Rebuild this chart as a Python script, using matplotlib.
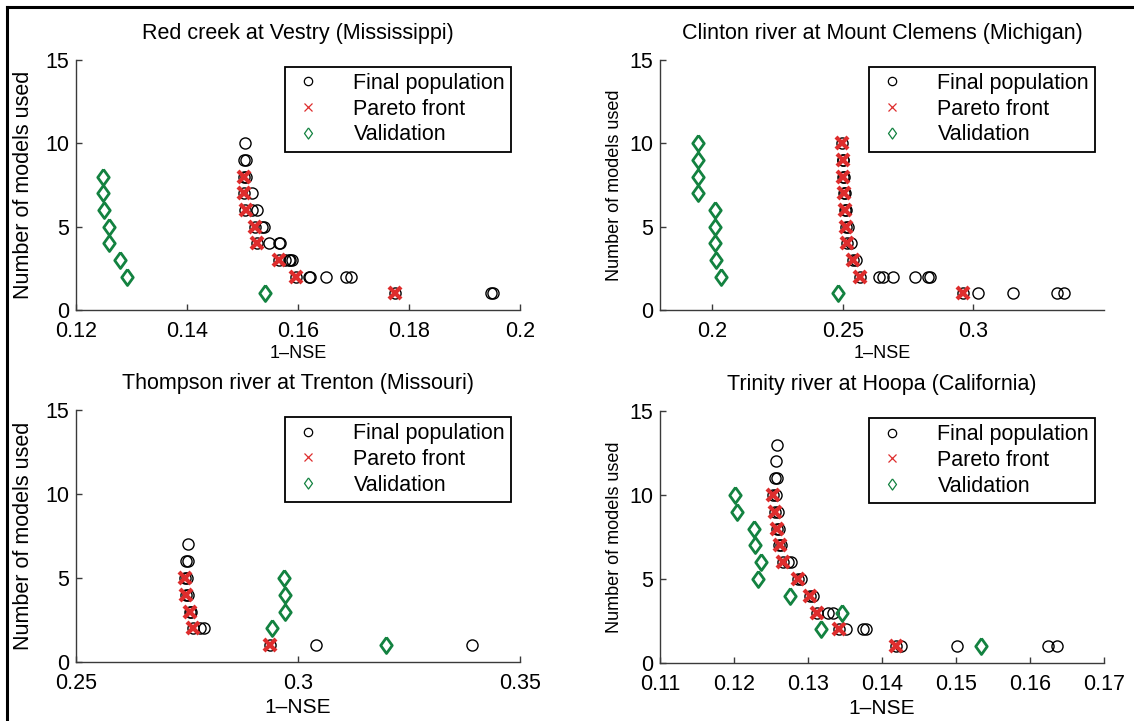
import matplotlib
matplotlib.use("Agg")
import matplotlib.pyplot as plt
from matplotlib.lines import Line2D

plt.rcParams['font.family'] = ['Liberation Sans', 'DejaVu Sans']

titles = ["Red creek at Vestry (Mississippi)",
          "Clinton river at Mount Clemens (Michigan)",
          "Thompson river at Trenton (Missouri)",
          "Trinity river at Hoopa (California)"]

# Panel 1: Red creek
pop1_x = [0.1505, 0.1503, 0.1507, 0.1503, 0.1506, 0.1503, 0.1517, 0.1505, 0.1517, 0.1526,
          0.1523, 0.1535, 0.1539, 0.1526, 0.1547, 0.1565, 0.1567, 0.1565, 0.1577, 0.1583,
          0.1586, 0.1589, 0.1597, 0.1619, 0.1622, 0.1651, 0.1687, 0.1696, 0.1775, 0.1948, 0.1951]
pop1_y = [10, 9, 9, 8, 8, 7, 7, 6, 6, 6, 5, 5, 5, 4, 4, 4, 4, 3, 3, 3, 3, 3,
          2, 2, 2, 2, 2, 2, 1, 1, 1]
par1_x = [0.1503, 0.1503, 0.1506, 0.1523, 0.1526, 0.1565, 0.1597, 0.1775]
par1_y = [8, 7, 6, 5, 4, 3, 2, 1]
val1_x = [0.1249, 0.1249, 0.1250, 0.1259, 0.1259, 0.1279, 0.1291, 0.1540]
val1_y = [8, 7, 6, 5, 4, 3, 2, 1]

# Panel 2: Clinton river
pop2_x = [0.2497, 0.2500, 0.2502, 0.2500, 0.2503, 0.2504, 0.2507, 0.2509, 0.2513,
          0.2513, 0.2519, 0.2517, 0.2532, 0.2538, 0.2551,
          0.2566, 0.2640, 0.2653, 0.2694, 0.2778, 0.2825, 0.2832,
          0.2959, 0.3019, 0.3153, 0.3319, 0.3348]
pop2_y = [10, 9, 9, 8, 8, 7, 7, 6, 6, 5, 5, 4, 4, 3, 3,
          2, 2, 2, 2, 2, 2, 2, 1, 1, 1, 1, 1]
par2_x = [0.2497, 0.2500, 0.2500, 0.2504, 0.2509, 0.2513, 0.2517, 0.2538, 0.2566, 0.2959]
par2_y = [10, 9, 8, 7, 6, 5, 4, 3, 2, 1]
val2_x = [0.1945, 0.1945, 0.1945, 0.1945, 0.2009, 0.2009, 0.2011, 0.2015, 0.2034, 0.2483]
val2_y = [10, 9, 8, 7, 6, 5, 4, 3, 2, 1]

# Panel 3: Thompson river
pop3_x = [0.2752, 0.2748, 0.2753, 0.2746, 0.2751, 0.2748, 0.2753, 0.2756, 0.2759,
          0.2763, 0.2780, 0.2789, 0.2936, 0.3040, 0.3391]
pop3_y = [7, 6, 6, 5, 5, 4, 4, 3, 3, 2, 2, 2, 1, 1, 1]
par3_x = [0.2746, 0.2748, 0.2756, 0.2763, 0.2936]
par3_y = [5, 4, 3, 2, 1]
val3_x = [0.2969, 0.2971, 0.2971, 0.2941, 0.3199]
val3_y = [5, 4, 3, 2, 1]

# Panel 4: Trinity river
pop4_x = [0.1258, 0.1257, 0.1256, 0.1258, 0.1253, 0.1257, 0.1255, 0.1259, 0.1258, 0.1261,
          0.1261, 0.1264, 0.1266, 0.1273, 0.1277, 0.1286, 0.1291, 0.1303, 0.1307,
          0.1312, 0.1327, 0.1334, 0.1342, 0.1352, 0.1374, 0.1378,
          0.1419, 0.1426, 0.1502, 0.1624, 0.1637]
pop4_y = [13, 12, 11, 11, 10, 10, 9, 9, 8, 8, 7, 7, 6, 6, 6, 5, 5, 4, 4,
          3, 3, 3, 2, 2, 2, 2, 1, 1, 1, 1, 1]
par4_x = [0.1253, 0.1255, 0.1258, 0.1262, 0.1266, 0.1286, 0.1303, 0.1312, 0.1342, 0.1419]
par4_y = [10, 9, 8, 7, 6, 5, 4, 3, 2, 1]
val4_x = [0.1202, 0.1204, 0.1227, 0.1228, 0.1237, 0.1232, 0.1275, 0.1346, 0.1317, 0.1534]
val4_y = [10, 9, 8, 7, 6, 5, 4, 3, 2, 1]

xlims = [(0.12, 0.2), (0.18, 0.35), (0.25, 0.35), (0.11, 0.17)]
xticks = [[0.12, 0.14, 0.16, 0.18, 0.2], [0.2, 0.25, 0.3], [0.25, 0.3, 0.35],
          [0.11, 0.12, 0.13, 0.14, 0.15, 0.16, 0.17]]
xticklabels = [["0.12", "0.14", "0.16", "0.18", "0.2"], ["0.2", "0.25", "0.3"],
               ["0.25", "0.3", "0.35"],
               ["0.11", "0.12", "0.13", "0.14", "0.15", "0.16", "0.17"]]
yticks = [0, 5, 10, 15]
legend_labels = ["Final population", "Pareto front", "Validation"]
xlabel = "1\u2013NSE"
ylabel = "Number of models used"

data = [(pop1_x, pop1_y, par1_x, par1_y, val1_x, val1_y),
        (pop2_x, pop2_y, par2_x, par2_y, val2_x, val2_y),
        (pop3_x, pop3_y, par3_x, par3_y, val3_x, val3_y),
        (pop4_x, pop4_y, par4_x, par4_y, val4_x, val4_y)]

RED = '#de2d2d'
GREEN = '#138240'
SPINE = '#3a3a3a'
diamond = [(0, 1), (0.72, 0), (0, -1), (-0.72, 0), (0, 1)]

W, H = 1134, 721
fig = plt.figure(figsize=(W / 100, H / 100), dpi=100)

# axes boxes in pixels: left, right, top, bottom
boxes = [(76, 520, 60, 310), (660, 1104, 60, 310),
         (76, 520, 410, 662), (660, 1104, 411, 663)]

xlabel_sizes = [13, 13, 15, 15]
ylabel_sizes = [15.5, 13, 15.5, 13]
ylabel_x = [-0.095, -0.083, -0.095, -0.083]

for i, (l, r, t, b) in enumerate(boxes):
    ax = fig.add_axes([l / W, 1 - b / H, (r - l) / W, (b - t) / H])
    px, py, qx, qy, vx, vy = data[i]
    ax.plot(px, py, linestyle='none', marker='o', ms=8, mfc='none', mec='black', mew=1.0)
    ax.plot(qx, qy, linestyle='none', marker='x', ms=8.5, mec=RED, mew=3.0)
    ax.plot(vx, vy, linestyle='none', marker=diamond, ms=11.5, mfc='none', mec=GREEN, mew=2.0)
    ax.set_xlim(*xlims[i])
    ax.set_ylim(0, 15)
    ax.set_xticks(xticks[i])
    ax.set_xticklabels(xticklabels[i])
    ax.set_yticks(yticks)
    for s in ['top', 'right']:
        ax.spines[s].set_visible(False)
    for s in ['left', 'bottom']:
        ax.spines[s].set_color(SPINE)
        ax.spines[s].set_linewidth(1.0)
    ax.tick_params(direction='in', length=4, width=1.0, color=SPINE,
                   labelsize=15.5)
    ax.tick_params(axis='x', pad=8)
    ax.tick_params(axis='y', pad=5)
    ax.set_title(titles[i], fontsize=15.5, pad=15)
    ax.set_xlabel(xlabel, fontsize=xlabel_sizes[i], labelpad=2 if i < 2 else 3)
    ax.set_ylabel(ylabel, fontsize=ylabel_sizes[i])
    ax.yaxis.set_label_coords(ylabel_x[i], 0.5)
    ax.patch.set_visible(False)

    handles = [Line2D([], [], linestyle='none', marker='o', ms=6, mfc='none', mec='black', mew=0.9),
               Line2D([], [], linestyle='none', marker='x', ms=5.5, mec=RED, mew=0.9),
               Line2D([], [], linestyle='none', marker=diamond, ms=8, mfc='none', mec=GREEN, mew=0.9)]
    leg = ax.legend(handles, legend_labels, loc='upper right', bbox_to_anchor=(0.98, 0.972),
                    borderaxespad=0, fontsize=15.5, frameon=True, fancybox=False,
                    edgecolor='black', handlelength=1.6, handletextpad=1.3,
                    labelspacing=0.22, borderpad=0.28)
    leg.get_frame().set_linewidth(1.3)
    leg.get_frame().set_alpha(1)

# figure border lines (top and left)
fig.add_artist(Line2D([7 / W, 1], [1 - 7 / H, 1 - 7 / H], color='black', lw=2.2))
fig.add_artist(Line2D([7 / W, 7 / W], [0, 1 - 7 / H], color='black', lw=2.2))

fig.savefig('out.png', dpi=100)
